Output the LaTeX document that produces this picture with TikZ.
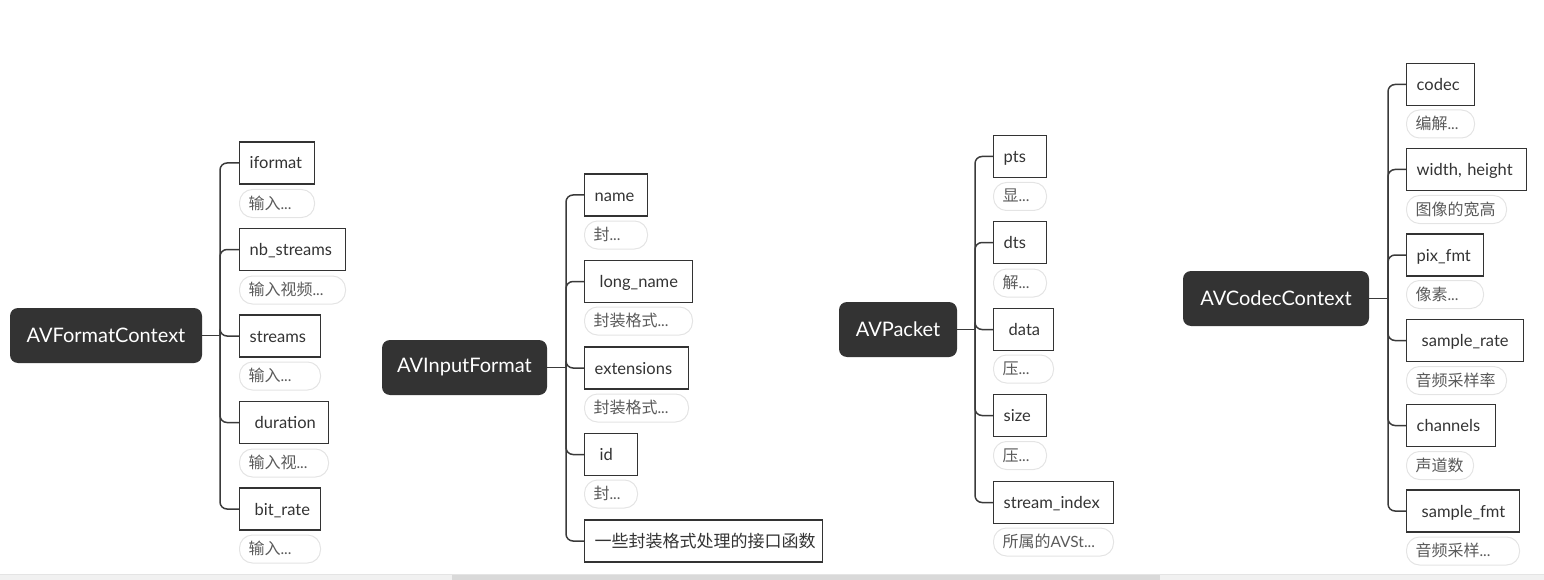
\documentclass[tikz,border=0pt]{standalone}
\usepackage{fontspec}
\newfontfamily\lat{Lato}
\newfontfamily\cjk{Noto Sans CJK SC}
\definecolor{dk}{HTML}{333333}
\definecolor{ln}{HTML}{3A3A3A}
\definecolor{nb}{HTML}{E4E4E4}
\definecolor{nt}{HTML}{5A5A5A}
\definecolor{sbl}{HTML}{F1F1F1}
\definecolor{sbd}{HTML}{D9D9D9}
\tikzset{
  rootbox/.style={fill=dk, rounded corners=8pt, minimum height=55, text=white,
    font=\lat\fontsize{20}{22}\selectfont, inner sep=0pt},
  fld/.style={draw=dk, line width=1.4pt, minimum height=42, anchor=west, inner xsep=10pt,
    inner ysep=0pt, align=left, text=dk, text height=12pt, text depth=0pt,
    font=\lat\fontsize{16.5}{18}\selectfont},
  note/.style={draw=nb, line width=1pt, rounded corners=13pt, minimum height=28, anchor=west,
    inner xsep=9pt, inner ysep=0pt, align=left, text=nt, text height=11pt, text depth=0pt,
    font=\lat\fontsize{15.5}{17}\selectfont},
  conn/.style={draw=ln, line width=1.5pt, rounded corners=7pt},
}
\newcommand\fbx[5]{\pgfmathsetmacro\tw{#4-20}\node[fld, minimum width=#4, text width=\tw] (#1) at (#2,#3) {#5};}
\newcommand\nbx[5]{\pgfmathsetmacro\tw{#4-18}\node[note, minimum width=#4, text width=\tw] (#1) at (#2,#3) {#5};}
\newcommand\zh[1]{{\cjk\fontsize{16}{18}\selectfont #1}}
\begin{document}
\begin{tikzpicture}[x=1pt,y=-1pt]
\useasboundingbox (0,0) rectangle (1544,580);
% scrollbar
\fill[sbl] (0,574) rectangle (1544,580);
\draw[nb, line width=0.6pt] (0,574) -- (1544,574);
\fill[sbd] (452,575) rectangle (1160,580);

% ===== Group 1: AVFormatContext
\node[rootbox, minimum width=192] (r1) at (106,335.5) {AVFormatContext};
\fbx{a1}{239}{163}{75}{iformat}
\nbx{an1}{239}{203.5}{75}{\zh{输入}...}
\fbx{a2}{239}{249.5}{106}{nb\_streams}
\nbx{an2}{239}{290}{106}{\zh{输入视频}...}
\fbx{a3}{239}{336}{81}{streams}
\nbx{an3}{239}{376}{81}{\zh{输入}...}
\fbx{a4}{239}{422.5}{89}{\hspace{5pt}duration}
\nbx{an4}{239}{463}{89}{\zh{输入视}...}
\fbx{a5}{239}{509}{81}{\hspace{5pt}bit\_rate}
\nbx{an5}{239}{549}{81}{\zh{输入}...}
\coordinate (j1) at (220,335.5);
\draw[conn] (r1.east) -- (j1);
\foreach \c in {a1,a2,a3,a4,a5} \draw[conn] (j1) |- (\c.west);

% ===== Group 2: AVInputFormat
\node[rootbox, minimum width=165] (r2) at (464.5,367.5) {AVInputFormat};
\fbx{b1}{584}{195}{63}{name}
\nbx{bn1}{584}{235}{63}{\zh{封}...}
\fbx{b2}{584}{281.5}{108}{\hspace{5pt}long\_name}
\nbx{bn2}{584}{321}{108}{\zh{封装格式}...}
\fbx{b3}{584}{368}{104}{extensions}
\nbx{bn3}{584}{408}{104}{\zh{封装格式}...}
\fbx{b4}{584}{454.5}{53}{\hspace{5pt}id}
\nbx{bn4}{584}{494}{53}{\zh{封}...}
\fbx{b5}{584}{541}{238}{{\cjk\fontsize{17}{19}\selectfont 一些封装格式处理的接口函数}}
\coordinate (j2) at (566,367.5);
\draw[conn] (r2.east) -- (j2);
\foreach \c in {b1,b2,b3,b4,b5} \draw[conn] (j2) |- (\c.west);

% ===== Group 3: AVPacket
\node[rootbox, minimum width=118] (r3) at (898,329.5) {AVPacket};
\fbx{c1}{993}{156.5}{53}{pts}
\nbx{cn1}{993}{196.5}{53}{\zh{显}...}
\fbx{c2}{993}{242.5}{53}{dts}
\nbx{cn2}{993}{283}{53}{\zh{解}...}
\fbx{c3}{993}{329.5}{60}{\hspace{5pt}data}
\nbx{cn3}{993}{369}{60}{\zh{压}...}
\fbx{c4}{993}{415.5}{53}{size}
\nbx{cn4}{993}{455.5}{53}{\zh{压}...}
\fbx{c5}{993}{502.5}{120}{stream\_index}
\nbx{cn5}{993}{542}{120}{\zh{所属的}AVSt...}
\coordinate (j3) at (975,329.5);
\draw[conn] (r3.east) -- (j3);
\foreach \c in {c1,c2,c3,c4,c5} \draw[conn] (j3) |- (\c.west);

% ===== Group 4: AVCodecContext
\node[rootbox, minimum width=186] (r4) at (1276,298.5) {AVCodecContext};
\fbx{d1}{1406}{84.5}{68}{codec}
\nbx{dn1}{1406}{124}{68}{\zh{编解}...}
\fbx{d2}{1406}{169.5}{120}{width, height}
\nbx{dn2}{1406}{209.5}{100}{\zh{图像的宽高}}
\fbx{d3}{1406}{255}{77}{pix\_fmt}
\nbx{dn3}{1406}{294.5}{77}{\zh{像素}...}
\fbx{d4}{1406}{340.5}{117}{\hspace{5pt}sample\_rate}
\nbx{dn4}{1406}{380.5}{100}{\zh{音频采样率}}
\fbx{d5}{1406}{425.5}{89}{channels}
\nbx{dn5}{1406}{465.5}{67}{\zh{声道数}}
\fbx{d6}{1406}{511}{113}{\hspace{5pt}sample\_fmt}
\nbx{dn6}{1406}{551}{113}{\zh{音频采样}...}
\coordinate (j4) at (1388,298.5);
\draw[conn] (r4.east) -- (j4);
\foreach \c in {d1,d2,d3,d4,d5,d6} \draw[conn] (j4) |- (\c.west);
\end{tikzpicture}
\end{document}
